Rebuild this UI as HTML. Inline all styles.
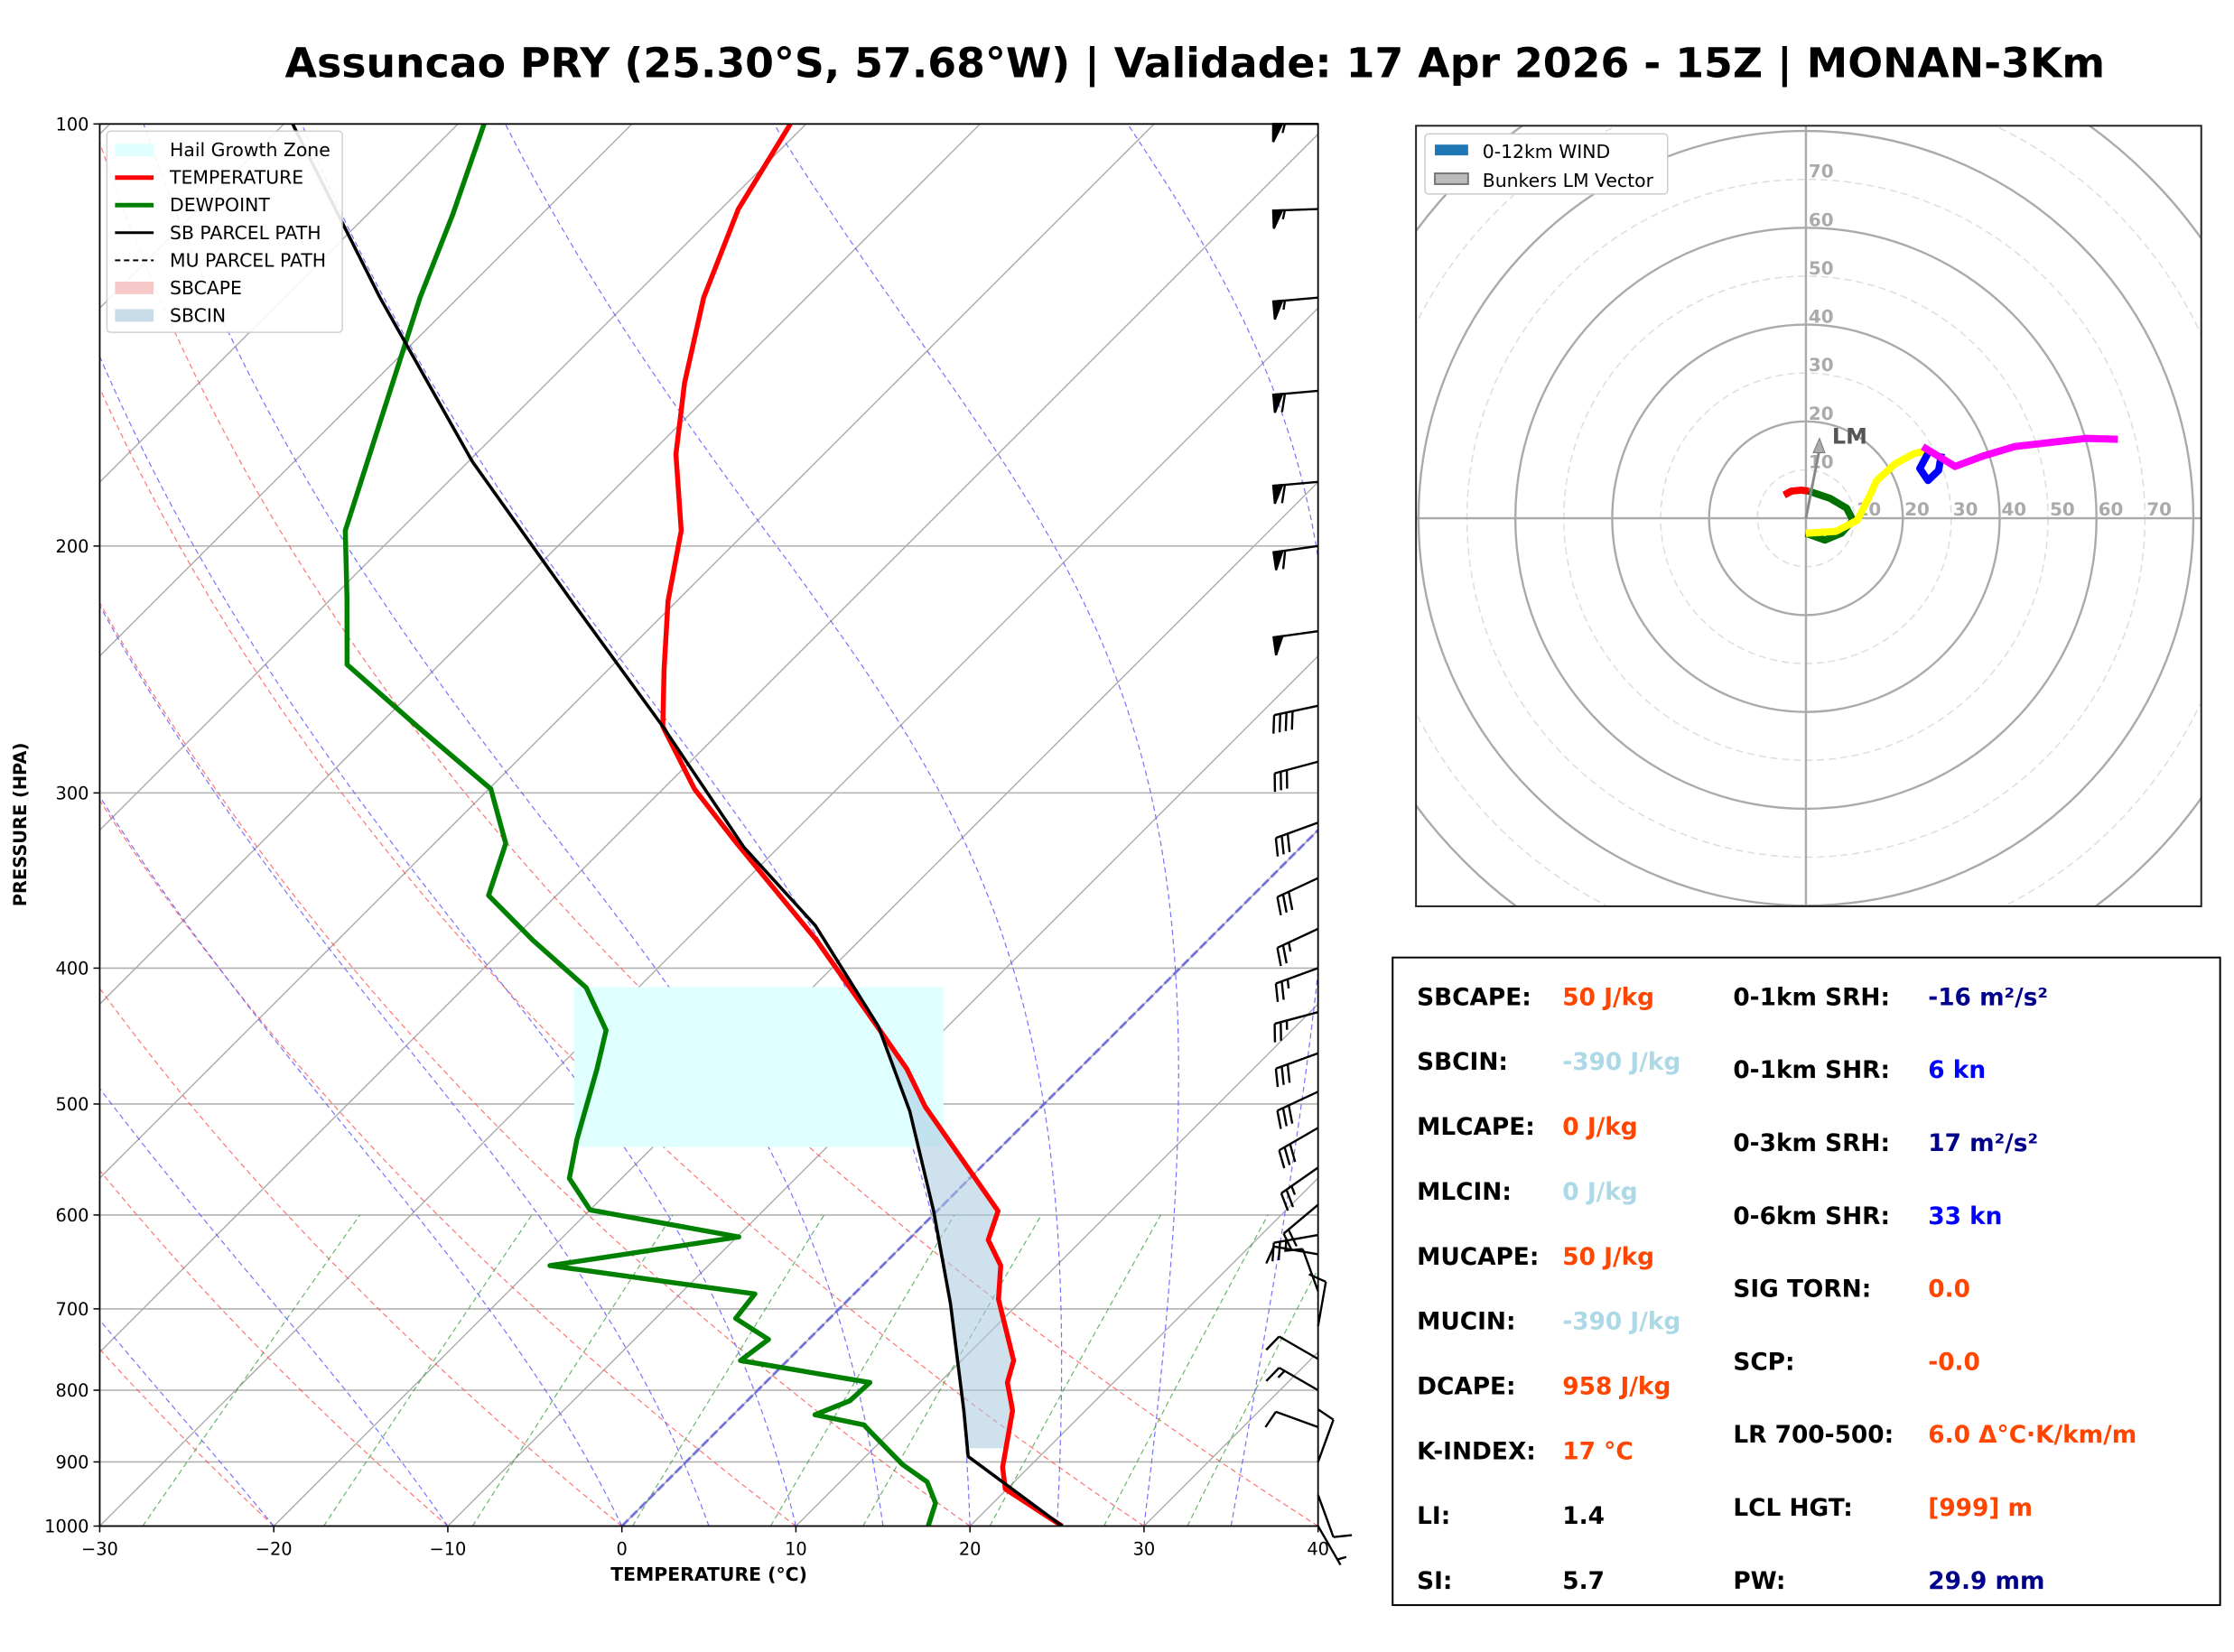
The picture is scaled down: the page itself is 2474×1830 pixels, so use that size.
<!DOCTYPE html>
<html><head><meta charset="utf-8"><style>
html,body{margin:0;padding:0;background:#fff;}
svg{display:block;font-family:"DejaVu Sans","Liberation Sans",sans-serif;}
</style></head><body>
<svg id="s" width="2474" height="1830" viewBox="0 0 2474 1830" xmlns="http://www.w3.org/2000/svg">
<defs>
<clipPath id="skc"><rect x="111" y="138" width="1356" height="1561"/></clipPath>
<clipPath id="hdc"><rect x="1576" y="140" width="874" height="869"/></clipPath>
</defs>
<g transform="scale(0.995)">
<text x="1330" y="86" font-size="46" font-weight="bold" text-anchor="middle">Assuncao PRY (25.30°S, 57.68°W) | Validade: 17 Apr 2026 - 15Z | MONAN-3Km</text>
<g id="skew"></g>
<g id="hodo"></g>
<g id="stats"></g>
</g>
</svg>
<script>
// ---- Sounding data ----
const tempP = [1000,941,908,827,790,762,689,652,625,596,537,502,472,442,382,324,298,269,245,219,195,172,153,133,115,100];
const tempT = [25.3,19.9,18.5,15.8,13.9,13.0,8.6,6.8,4.6,3.5,-2.7,-6.7,-9.9,-13.8,-22.5,-33.0,-38.2,-43.6,-46.8,-50.5,-53.8,-58.5,-62.1,-65.9,-69.0,-70.9];
const dewP = [1000,963,930,904,857,847,833,814,790,762,736,711,683,652,622,595,565,530,472,443,413,382,355,326,298,269,243,218,195,133,116,100];
const dewT = [17.6,16.7,15.0,12.6,8.9,8.1,4.7,5.9,6.0,-2.7,-2.3,-5.4,-5.7,-19.1,-9.9,-20.0,-23.0,-24.8,-27.7,-29.4,-33.0,-38.8,-43.9,-45.9,-49.9,-57.7,-65.3,-69.1,-73.1,-82.2,-85.1,-88.5];
const parcelP = [1000,892,827,694,596,506,440,373,328,269,218,174,133,100];
const parcelT = [25.3,15.9,13.0,6.1,-0.2,-7.3,-14.0,-23.4,-32.0,-43.6,-56.3,-69.8,-84.5,-99.5];
const windP = [100,115,133,155,180,200,230,260,285,315,345,375,400,430,460,490,520,555,590,620,640,680,720,760,800,850,900,950,1000];
const windDir = [270,268,265,265,265,262,262,258,255,250,245,245,250,255,250,245,240,235,230,260,280,340,10,300,300,290,20,160,150];
const windSpd = [55,55,55,60,60,58,52,40,30,30,30,25,25,25,30,30,30,25,20,25,10,8,10,10,15,12,10,8,5];
const xTicks = [-30,-20,-10,0,10,20,30,40];
const pTicks = [100,200,300,400,500,600,700,800,900,1000];
// ---- Hodograph data (kn) ----
const hodoRedU = [-4.5,-3,-1,0.6];           const hodoRedV = [4.8,5.6,5.8,5.6];
const hodoGreenU = [0.6,5,8.4,9.7,7.3,3.9,0]; const hodoGreenV = [5.6,4.1,2.1,-0.4,-3.1,-4.5,-3.1];
const hodoYellowU = [0,6.2,10.6,12.9,14.6,18.5,22.4,25.2]; const hodoYellowV = [-3.1,-2.7,-0.4,4.1,7.8,11.3,13.4,14];
const hodoBlueU = [25.2,23.5,25.2,27.4,28]; const hodoBlueV = [13.4,10.3,7.8,9.9,13.4];
const hodoMagU = [24.1,30.8,36.4,43.1,57.7,64.4]; const hodoMagV = [14.8,10.7,12.8,14.8,16.5,16.3];
const lmU = [2.8]; const lmV = [16.5];
const hodoRings = [10,20,30,40,50,60,70,80,90,100];

const NS="http://www.w3.org/2000/svg";
function mk(par,tag,attrs,txt){const e=document.createElementNS(NS,tag);for(const k in attrs)e.setAttribute(k,attrs[k]);if(txt!==undefined)e.textContent=txt;par.appendChild(e);return e;}
const Y=p=>1699-Math.log10(1000/p)*1561;
const X=(T,p)=>111+(T+30)*(1356/70)+(1699-Y(p));
const skewG=document.getElementById('skew');
const clipG=mk(skewG,'g',{'clip-path':'url(#skc)'});


function pathFrom(ps,ts){return ps.map((p,i)=>(i?'L':'M')+X(ts[i],p).toFixed(1)+','+Y(p).toFixed(1)).join('');}
// isobars
pTicks.forEach(p=>{const l=mk(clipG,'line',{x1:111,x2:1467,y1:Y(p),y2:Y(p),stroke:'#b0b0b0','stroke-width':1.6});

});
// isotherms
for(let t=-120;t<=40;t+=10){const l=mk(clipG,'line',{x1:X(t,1000),y1:Y(1000),x2:X(t,100),y2:Y(100),stroke:'#aaa','stroke-width':1.4});

}
// dry adiabats
for(let t0=-30;t0<=40;t0+=10){let d='';for(let p=1000;p>=100;p-=10){const T=(t0+273.15)*Math.pow(p/1000,0.2857)-273.15;d+=(p==1000?'M':'L')+X(T,p).toFixed(1)+','+Y(p).toFixed(1);}
const e=mk(clipG,'path',{d:d,fill:'none',stroke:'#ff5050','stroke-width':1.2,'stroke-dasharray':'6,4',opacity:0.8});

}
// moist adiabats
function esat(T){return 6.112*Math.exp(17.67*T/(T+243.5));}
[-30,-20,-10,0,5,10,15,20,25,30,35].forEach(t0=>{let T=t0+273.15,d='M'+X(t0,1000).toFixed(1)+','+Y(1000).toFixed(1);
for(let p=1000;p>100;p-=2){const e=esat(T-273.15),rs=0.622*e/(p-e);const dTdp=(287*T+2.5e6*rs)/(1004+(2.5e6*2.5e6*rs*0.622)/(287*T*T))/p;T-=dTdp*2;d+='L'+X(T-273.15,p-2).toFixed(1)+','+Y(p-2).toFixed(1);}
const e=mk(clipG,'path',{d:d,fill:'none',stroke:'#5a5aff','stroke-width':1.2,'stroke-dasharray':'6,4',opacity:0.85});

});
// mixing ratio lines
[0.0004,0.001,0.002,0.004,0.007,0.01,0.016,0.024,0.032].forEach(w=>{let d='';for(let p=1000;p>=600;p-=20){const e=p*w/(0.622+w),l=Math.log(e/6.112),Td=243.5*l/(17.67-l);d+=(p==1000?'M':'L')+X(Td,p).toFixed(1)+','+Y(p).toFixed(1);}
const e=mk(clipG,'path',{d:d,fill:'none',stroke:'#3a9a3a','stroke-width':1.2,'stroke-dasharray':'6,4',opacity:0.75});

});
// 0C isotherm highlight
const zi=mk(clipG,'line',{x1:X(0,1000),y1:Y(1000),x2:X(0,100),y2:Y(100),stroke:'#6060e0','stroke-width':3,'stroke-dasharray':'10,4',opacity:0.8});


// hail growth zone
const hg=mk(clipG,'rect',{x:639,y:1099,width:411,height:178,fill:'#e0ffff'});


// SBCIN fill
function interp(ps,ts,p){for(let i=0;i<ps.length-1;i++){if(p<=ps[i]&&p>=ps[i+1]){const f=(Math.log(ps[i])-Math.log(p))/(Math.log(ps[i])-Math.log(ps[i+1]));return ts[i]+f*(ts[i+1]-ts[i]);}}return ts[ts.length-1];}
let cinTop='',cinBot=[];for(let p=880;p>=400;p-=5){cinTop+=(p==880?'M':'L')+X(interp(tempP,tempT,p),p).toFixed(1)+','+Y(p).toFixed(1);cinBot.push('L'+X(interp(parcelP,parcelT,p),p).toFixed(1)+','+Y(p).toFixed(1));}
const cin=mk(clipG,'path',{d:cinTop+cinBot.reverse().join('')+'Z',fill:'#a9c8e0',opacity:0.55});


// profiles
const tl=mk(clipG,'path',{d:pathFrom(tempP,tempT),fill:'none',stroke:'#ff0000','stroke-width':5.5,'stroke-linejoin':'round'});


const dl=mk(clipG,'path',{d:pathFrom(dewP,dewT),fill:'none',stroke:'#008000','stroke-width':5.5,'stroke-linejoin':'round'});


const pl=mk(clipG,'path',{d:pathFrom(parcelP,parcelT),fill:'none',stroke:'#000','stroke-width':3.6,'stroke-linejoin':'round'});


// axes frame
const fr=mk(skewG,'rect',{x:111,y:138,width:1356,height:1561,fill:'none',stroke:'#000','stroke-width':1.8});


xTicks.forEach(t=>{const x=111+(t+30)*(1356/70);mk(skewG,'line',{x1:x,x2:x,y1:1699,y2:1706,stroke:'#000','stroke-width':1.5});
const tx=mk(skewG,'text',{x:x,y:1731,'font-size':19.5,'text-anchor':'middle'},t<0?'\u2212'+(-t):String(t));

});
pTicks.forEach(p=>{mk(skewG,'line',{x1:104,x2:111,y1:Y(p),y2:Y(p),stroke:'#000','stroke-width':1.5});
const tx=mk(skewG,'text',{x:99,y:Y(p)+7,'font-size':19.5,'text-anchor':'end'},String(p));

});
const xt=mk(skewG,'text',{x:789,y:1760,'font-size':20.5,'font-weight':'bold','text-anchor':'middle'},'TEMPERATURE (°C)');


const yt=mk(skewG,'text',{x:29,y:918,'font-size':19.5,'font-weight':'bold','text-anchor':'middle',transform:'rotate(-90 29 918)'},'PRESSURE (HPA)');


// wind barbs
windP.forEach((p,i)=>{const g=mk(skewG,'g',{stroke:'#000','stroke-width':2.4,fill:'#000'});


const bx=1467,by=Y(p),d=windDir[i]*Math.PI/180,L=50;const sx=Math.sin(d),sy=-Math.cos(d);
const tx=bx+sx*L,ty=by+sy*L;mk(g,'line',{x1:bx,y1:by,x2:tx,y2:ty});
let s=Math.round(windSpd[i]/5)*5,pos=0;const nx=sy,ny=-sx;const fl=20,sp=7;
while(s>=50){const a=[tx-sx*pos,ty-sy*pos],b=[tx-sx*(pos+10),ty-sy*(pos+10)],c=[a[0]+nx*fl,a[1]+ny*fl];mk(g,'polygon',{points:a+' '+c+' '+b});pos+=13;s-=50;}
while(s>=10){const a=[tx-sx*pos,ty-sy*pos];mk(g,'line',{x1:a[0],y1:a[1],x2:a[0]+nx*fl+sx*5,y2:a[1]+ny*fl+sy*5});pos+=sp;s-=10;}
if(s>=5){if(pos==0)pos=sp;const a=[tx-sx*pos,ty-sy*pos];mk(g,'line',{x1:a[0],y1:a[1],x2:a[0]+nx*fl/2+sx*2.5,y2:a[1]+ny*fl/2+sy*2.5});}});
// legend
const lg=mk(skewG,'g',{});


mk(lg,'rect',{x:119,y:146,width:262,height:224,fill:'#fff',stroke:'#ccc','stroke-width':1.5,rx:4,opacity:0.9});
const legItems=[['Hail Growth Zone','patch','#e0ffff'],['TEMPERATURE','line','#ff0000'],['DEWPOINT','line','#008000'],['SB PARCEL PATH','line','#000'],['MU PARCEL PATH','dash','#000'],['SBCAPE','patch','#f6c8c8'],['SBCIN','patch','#c8dcea']];
legItems.forEach((it,i)=>{const y=167+i*30.7;const e=mk(lg,'g',{});


if(it[1]=='patch')mk(e,'rect',{x:128,y:y-7,width:43,height:14,fill:it[2]});
else mk(e,'line',{x1:128,x2:171,y1:y,y2:y,stroke:it[2],'stroke-width':it[1]=='dash'?2:(i==3?3:5),'stroke-dasharray':it[1]=='dash'?'6,4':'none'});
mk(e,'text',{x:189,y:y+7,'font-size':20.5},it[0]);});

// ---- Hodograph ----
const hodoG=document.getElementById('hodo');const cx=2010,cy=577,k=5.39;
const hu=u=>cx+u*k,hv=v=>cy-v*k;
const hc=mk(hodoG,'g',{'clip-path':'url(#hdc)'});


hodoRings.forEach(r=>{const c=mk(hc,'circle',{cx:cx,cy:cy,r:r*k,fill:'none',stroke:r%20==0?'#aaa':'#ddd','stroke-width':r%20==0?2.4:1.5,'stroke-dasharray':r%20==0?'none':'8,5'});

});
mk(hc,'line',{x1:1576,x2:2450,y1:cy,y2:cy,stroke:'#aaa','stroke-width':2.4});
mk(hc,'line',{x1:cx,x2:cx,y1:140,y2:1009,stroke:'#aaa','stroke-width':2.4});
[10,20,30,40,50,60,70].forEach(r=>{const a=mk(hc,'text',{x:hu(r)+2,y:cy-3,'font-size':20,'font-weight':'bold',fill:'#aaa'},String(r));


const b=mk(hc,'text',{x:cx+3,y:hv(r)-2,'font-size':20,'font-weight':'bold',fill:'#aaa'},String(r));

});
function hline(us,vs,col,name){const d=us.map((u,i)=>(i?'L':'M')+hu(u).toFixed(1)+','+hv(vs[i]).toFixed(1)).join('');
const e=mk(hc,'path',{d:d,fill:'none',stroke:col,'stroke-width':8,'stroke-linejoin':'round'});

}
hline(hodoRedU,hodoRedV,'#ff0000','hodo-segment-red');
hline(hodoGreenU,hodoGreenV,'#007000','hodo-segment-green');
hline(hodoYellowU,hodoYellowV,'#ffff00','hodo-segment-yellow');
hline(hodoBlueU,hodoBlueV,'#0000ff','hodo-segment-blue');
hline(hodoMagU,hodoMagV,'#ff00ff','hodo-segment-magenta');
const lm=mk(hc,'g',{});


mk(lm,'line',{x1:cx,y1:cy,x2:hu(lmU[0]),y2:hv(lmV[0])+12,stroke:'#888','stroke-width':3});
mk(lm,'polygon',{points:`${hu(lmU[0])},${hv(lmV[0])} ${hu(lmU[0])-7},${hv(lmV[0])+16} ${hu(lmU[0])+6},${hv(lmV[0])+16}`,fill:'#aaa',stroke:'#777'});
mk(lm,'text',{x:hu(lmU[0])+14,y:hv(lmV[0])+6,'font-size':24,'font-weight':'bold',fill:'#555'},'LM');
const hf=mk(hodoG,'rect',{x:1576,y:140,width:874,height:869,fill:'none',stroke:'#222','stroke-width':2});


const hl=mk(hodoG,'g',{});


mk(hl,'rect',{x:1586,y:149,width:270,height:67,fill:'#fff',stroke:'#ccc','stroke-width':1.5,rx:4});
mk(hl,'rect',{x:1597,y:161,width:37,height:12,fill:'#1f77b4'});
mk(hl,'text',{x:1650,y:176,'font-size':20.5},'0-12km WIND');
mk(hl,'rect',{x:1597,y:193,width:37,height:12,fill:'#bbb',stroke:'#777','stroke-width':2});
mk(hl,'text',{x:1650,y:208,'font-size':20.5},'Bunkers LM Vector');

// ---- Stats ----
const statsG=document.getElementById('stats');
const sb=mk(statsG,'rect',{x:1550,y:1066,width:921,height:721,fill:'#fff',stroke:'#000','stroke-width':2});


const leftStats=[['SBCAPE:','50 J/kg','#ff4500'],['SBCIN:','-390 J/kg','#add8e6'],['MLCAPE:','0 J/kg','#ff4500'],['MLCIN:','0 J/kg','#add8e6'],['MUCAPE:','50 J/kg','#ff4500'],['MUCIN:','-390 J/kg','#add8e6'],['DCAPE:','958 J/kg','#ff4500'],['K-INDEX:','17 °C','#ff4500'],['LI:','1.4','#000'],['SI:','5.7','#000']];
const rightStats=[['0-1km SRH:','-16 m²/s²','#00008b'],['0-1km SHR:','6 kn','#0000ff'],['0-3km SRH:','17 m²/s²','#00008b'],['0-6km SHR:','33 kn','#0000ff'],['SIG TORN:','0.0','#ff4500'],['SCP:','-0.0','#ff4500'],['LR 700-500:','6.0 Δ°C·K/km/m','#ff4500'],['LCL HGT:','[999] m','#ff4500'],['PW:','29.9 mm','#00008b']];
leftStats.forEach((r,i)=>{const y=1119+i*72.2;const g=mk(statsG,'g',{});


mk(g,'text',{x:1577,y:y,'font-size':26.5,'font-weight':'bold'},r[0]);
mk(g,'text',{x:1739,y:y,'font-size':26.5,'font-weight':'bold',fill:r[2]},r[1]);});
rightStats.forEach((r,i)=>{const y=1119+i*81.2;const g=mk(statsG,'g',{});


mk(g,'text',{x:1929,y:y,'font-size':26.5,'font-weight':'bold'},r[0]);
mk(g,'text',{x:2146,y:y,'font-size':26.5,'font-weight':'bold',fill:r[2]},r[1]);});
</script>
</body></html>
